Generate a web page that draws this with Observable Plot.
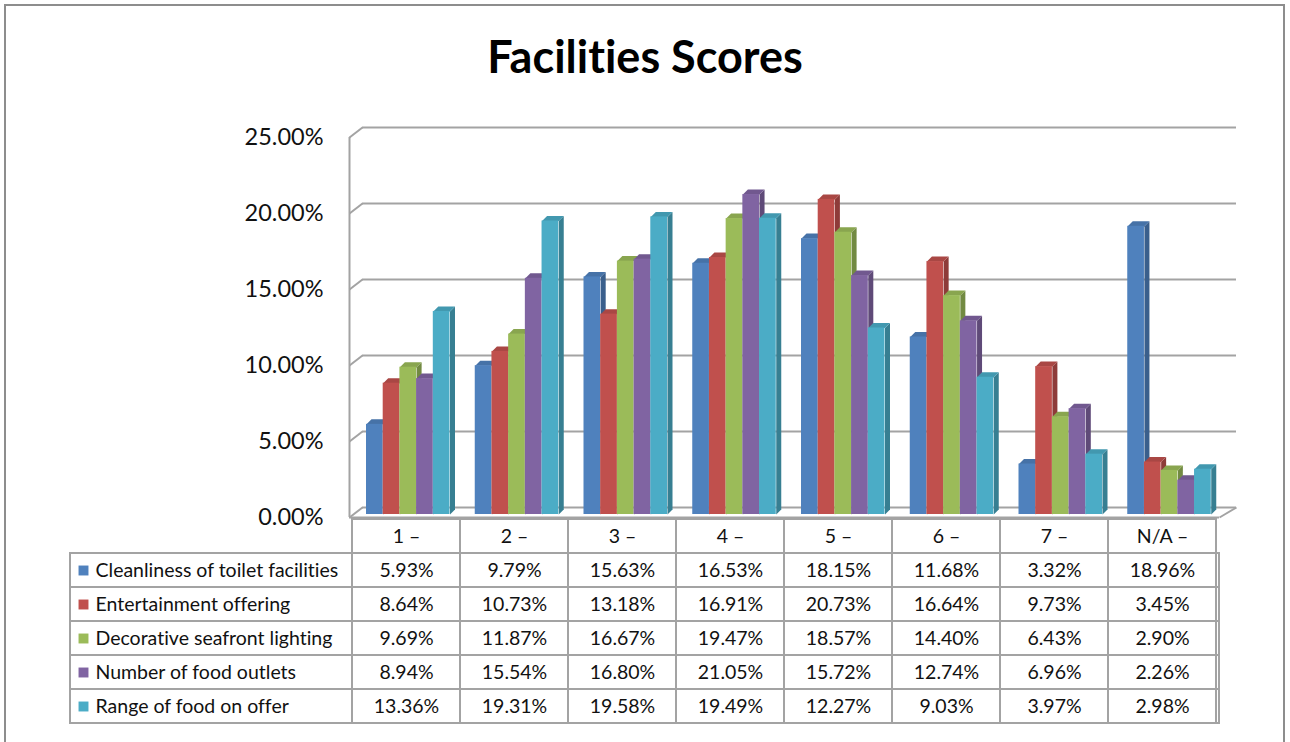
<!DOCTYPE html>
<html>
<head>
<meta charset="utf-8">
<script src="https://cdn.jsdelivr.net/npm/d3@7"></script>
<script src="https://cdn.jsdelivr.net/npm/@observablehq/plot@0.6"></script>
<style>
  html, body { margin: 0; padding: 0; background: #fff; }
  #root { position: relative; width: 1290px; height: 742px; overflow: hidden; font-family: Lato, "Open Sans", sans-serif; font-variant-ligatures: none; font-feature-settings: "liga" 0, "clig" 0; }
  #root svg text { font-variant-ligatures: none; font-feature-settings: "liga" 0, "clig" 0; }
  #frame { position: absolute; left: 4px; top: 4px; width: 1281px; height: 780px; border: 2px solid #8d8d8d; box-sizing: border-box; }
  #title { position: absolute; left: 0; width: 1290px; top: 34px; text-align: center; font-weight: 700; font-size: 45px; line-height: 45px; color: #000; }
  #chart, #table { position: absolute; left: 0; }
  #chart { top: 100px; }
  #table { top: 517px; }
</style>
</head>
<body>
<div id="root">
  <div id="frame"></div>
  <div id="title">Facilities Scores</div>
  <div id="chart"></div>
  <div id="table"></div>
</div>
<script>
// ---- data ----
const categories = ["1 –", "2 –", "3 –", "4 –", "5 –", "6 –", "7 –", "N/A –"];
const seriesNames = [
  "Cleanliness of toilet facilities",
  "Entertainment offering",
  "Decorative seafront lighting",
  "Number of food outlets",
  "Range of food on offer"
];
const cleanliness   = [5.93, 9.79, 15.63, 16.53, 18.15, 11.68, 3.32, 18.96];
const entertainment = [8.64, 10.73, 13.18, 16.91, 20.73, 16.64, 9.73, 3.45];
const lighting      = [9.69, 11.87, 16.67, 19.47, 18.57, 14.40, 6.43, 2.90];
const outlets       = [8.94, 15.54, 16.80, 21.05, 15.72, 12.74, 6.96, 2.26];
const foodRange     = [13.36, 19.31, 19.58, 19.49, 12.27, 9.03, 3.97, 2.98];
const yTicks = [0, 5, 10, 15, 20, 25];

const seriesValues = [cleanliness, entertainment, lighting, outlets, foodRange];
const colors = ["#4F81BD", "#C0504D", "#9BBB59", "#8064A2", "#4BACC6"];
const fmt = v => v.toFixed(2) + "%";

// ---- layout constants (pixels) ----
const COLW = 108.75, BARW = 16.7, GAP = 17, DEPTH = 5;
const PXY = 380 / 25;            // pixels per percentage point
const WALL_DX = 13, WALL_DY = 10; // back-wall offset
const dxU = DEPTH / COLW, dyU = DEPTH / PXY;
const wdxU = WALL_DX / COLW, wdyU = WALL_DY / PXY;
const grid = "#a3a3a3";

// ---- bar geometry ----
const rows = [];
categories.forEach((c, ci) => seriesValues.forEach((vals, s) => {
  const xL = ci + (GAP + s * BARW) / COLW;
  rows.push({ci, s, v: vals[ci], xL, xR: xL + BARW / COLW});
}));

const barMarks = [];
seriesNames.forEach((name, s) => {
  const base = d3.color(colors[s]);
  const side = base.darker(0.85).formatHex();
  const top = base.darker(0.35).formatHex();
  const r = rows.filter(d => d.s === s);
  const sidePts = r.flatMap((d, k) => [
    {id: k, x: d.xR, y: 0}, {id: k, x: d.xR, y: d.v},
    {id: k, x: d.xR + dxU, y: d.v + dyU}, {id: k, x: d.xR + dxU, y: dyU}
  ]);
  const topPts = r.flatMap((d, k) => [
    {id: k, x: d.xL, y: d.v}, {id: k, x: d.xL + dxU, y: d.v + dyU},
    {id: k, x: d.xR + dxU, y: d.v + dyU}, {id: k, x: d.xR, y: d.v}
  ]);
  barMarks.push(
    Plot.line(sidePts, {x: "x", y: "y", z: "id", fill: side, stroke: "none", dy: -3}),
    Plot.line(topPts, {x: "x", y: "y", z: "id", fill: top, stroke: "none", dy: -3}),
    Plot.rect(r, {x1: "xL", x2: "xR", y1: 0, y2: "v", fill: colors[s], dy: -3})
  );
});

const chart = Plot.plot({
  width: 1290,
  height: 430,
  marginLeft: 349,
  marginRight: 71,
  marginTop: 37,
  marginBottom: 13,
  style: {background: "transparent", overflow: "visible", fontSize: "23.5px", fontFamily: "Lato, sans-serif", color: "#111"},
  x: {type: "linear", domain: [0, categories.length], axis: null},
  y: {domain: [0, 25], ticks: 5, tickFormat: fmt, tickSize: 0, tickPadding: 26, label: null},
  marks: [
    // back wall gridlines
    Plot.ruleY(yTicks, {y: d => d + wdyU, x1: wdxU, x2: categories.length + 17 / COLW, stroke: grid, strokeWidth: 2}),
    // left wall
    Plot.ruleX([0], {y1: 0, y2: 25, stroke: grid, strokeWidth: 2}),
    Plot.link(yTicks, {x1: 0, y1: d => d, x2: wdxU, y2: d => d + wdyU, stroke: grid, strokeWidth: 2}),
    // floor
    Plot.ruleY([0], {x1: 0, x2: categories.length, stroke: grid, strokeWidth: 2}),
    Plot.link([0], {x1: categories.length, y1: 0, x2: categories.length + 17 / COLW, y2: wdyU, stroke: grid, strokeWidth: 2}),
    ...barMarks
  ]
});
document.getElementById("chart").append(chart);

// ---- data table ----
const HEADER = "__header";
const cells = [];
categories.forEach((c, ci) => seriesNames.forEach((n, s) => cells.push({cat: c, row: n, v: seriesValues[s][ci]})));
const gridCells = categories.flatMap(c => [HEADER, ...seriesNames].map(r => ({cat: c, row: r})));

const table = Plot.plot({
  width: 1290,
  height: 225,
  marginLeft: 349,
  marginRight: 71,
  marginTop: 0,
  marginBottom: 17,
  style: {background: "transparent", overflow: "visible", fontSize: "19.5px", fontFamily: "Lato, sans-serif", color: "#111"},
  x: {type: "band", domain: categories, padding: 0, axis: null},
  y: {type: "band", domain: [HEADER, ...seriesNames], padding: 0, axis: null},
  color: {type: "identity"},
  marks: [
    Plot.cell(seriesNames, {y: d => d, fill: "none", stroke: grid, strokeWidth: 2, insetLeft: -279}),
    Plot.cell(gridCells, {x: "cat", y: "row", fill: "none", stroke: grid, strokeWidth: 2}),
    Plot.text(categories, {x: d => d, y: () => HEADER, text: d => d, fill: "#111"}),
    Plot.text(cells, {x: "cat", y: "row", text: d => fmt(d.v), fill: "#111"}),
    Plot.dot(seriesNames, {y: d => d, frameAnchor: "left", dx: -266, symbol: "square", r: 5.6, fill: (d, i) => colors[i], stroke: "none"}),
    Plot.text(seriesNames, {y: d => d, text: d => d, frameAnchor: "left", textAnchor: "start", dx: -254, fill: "#111"})
  ]
});
document.getElementById("table").append(table);
</script>
</body>
</html>
